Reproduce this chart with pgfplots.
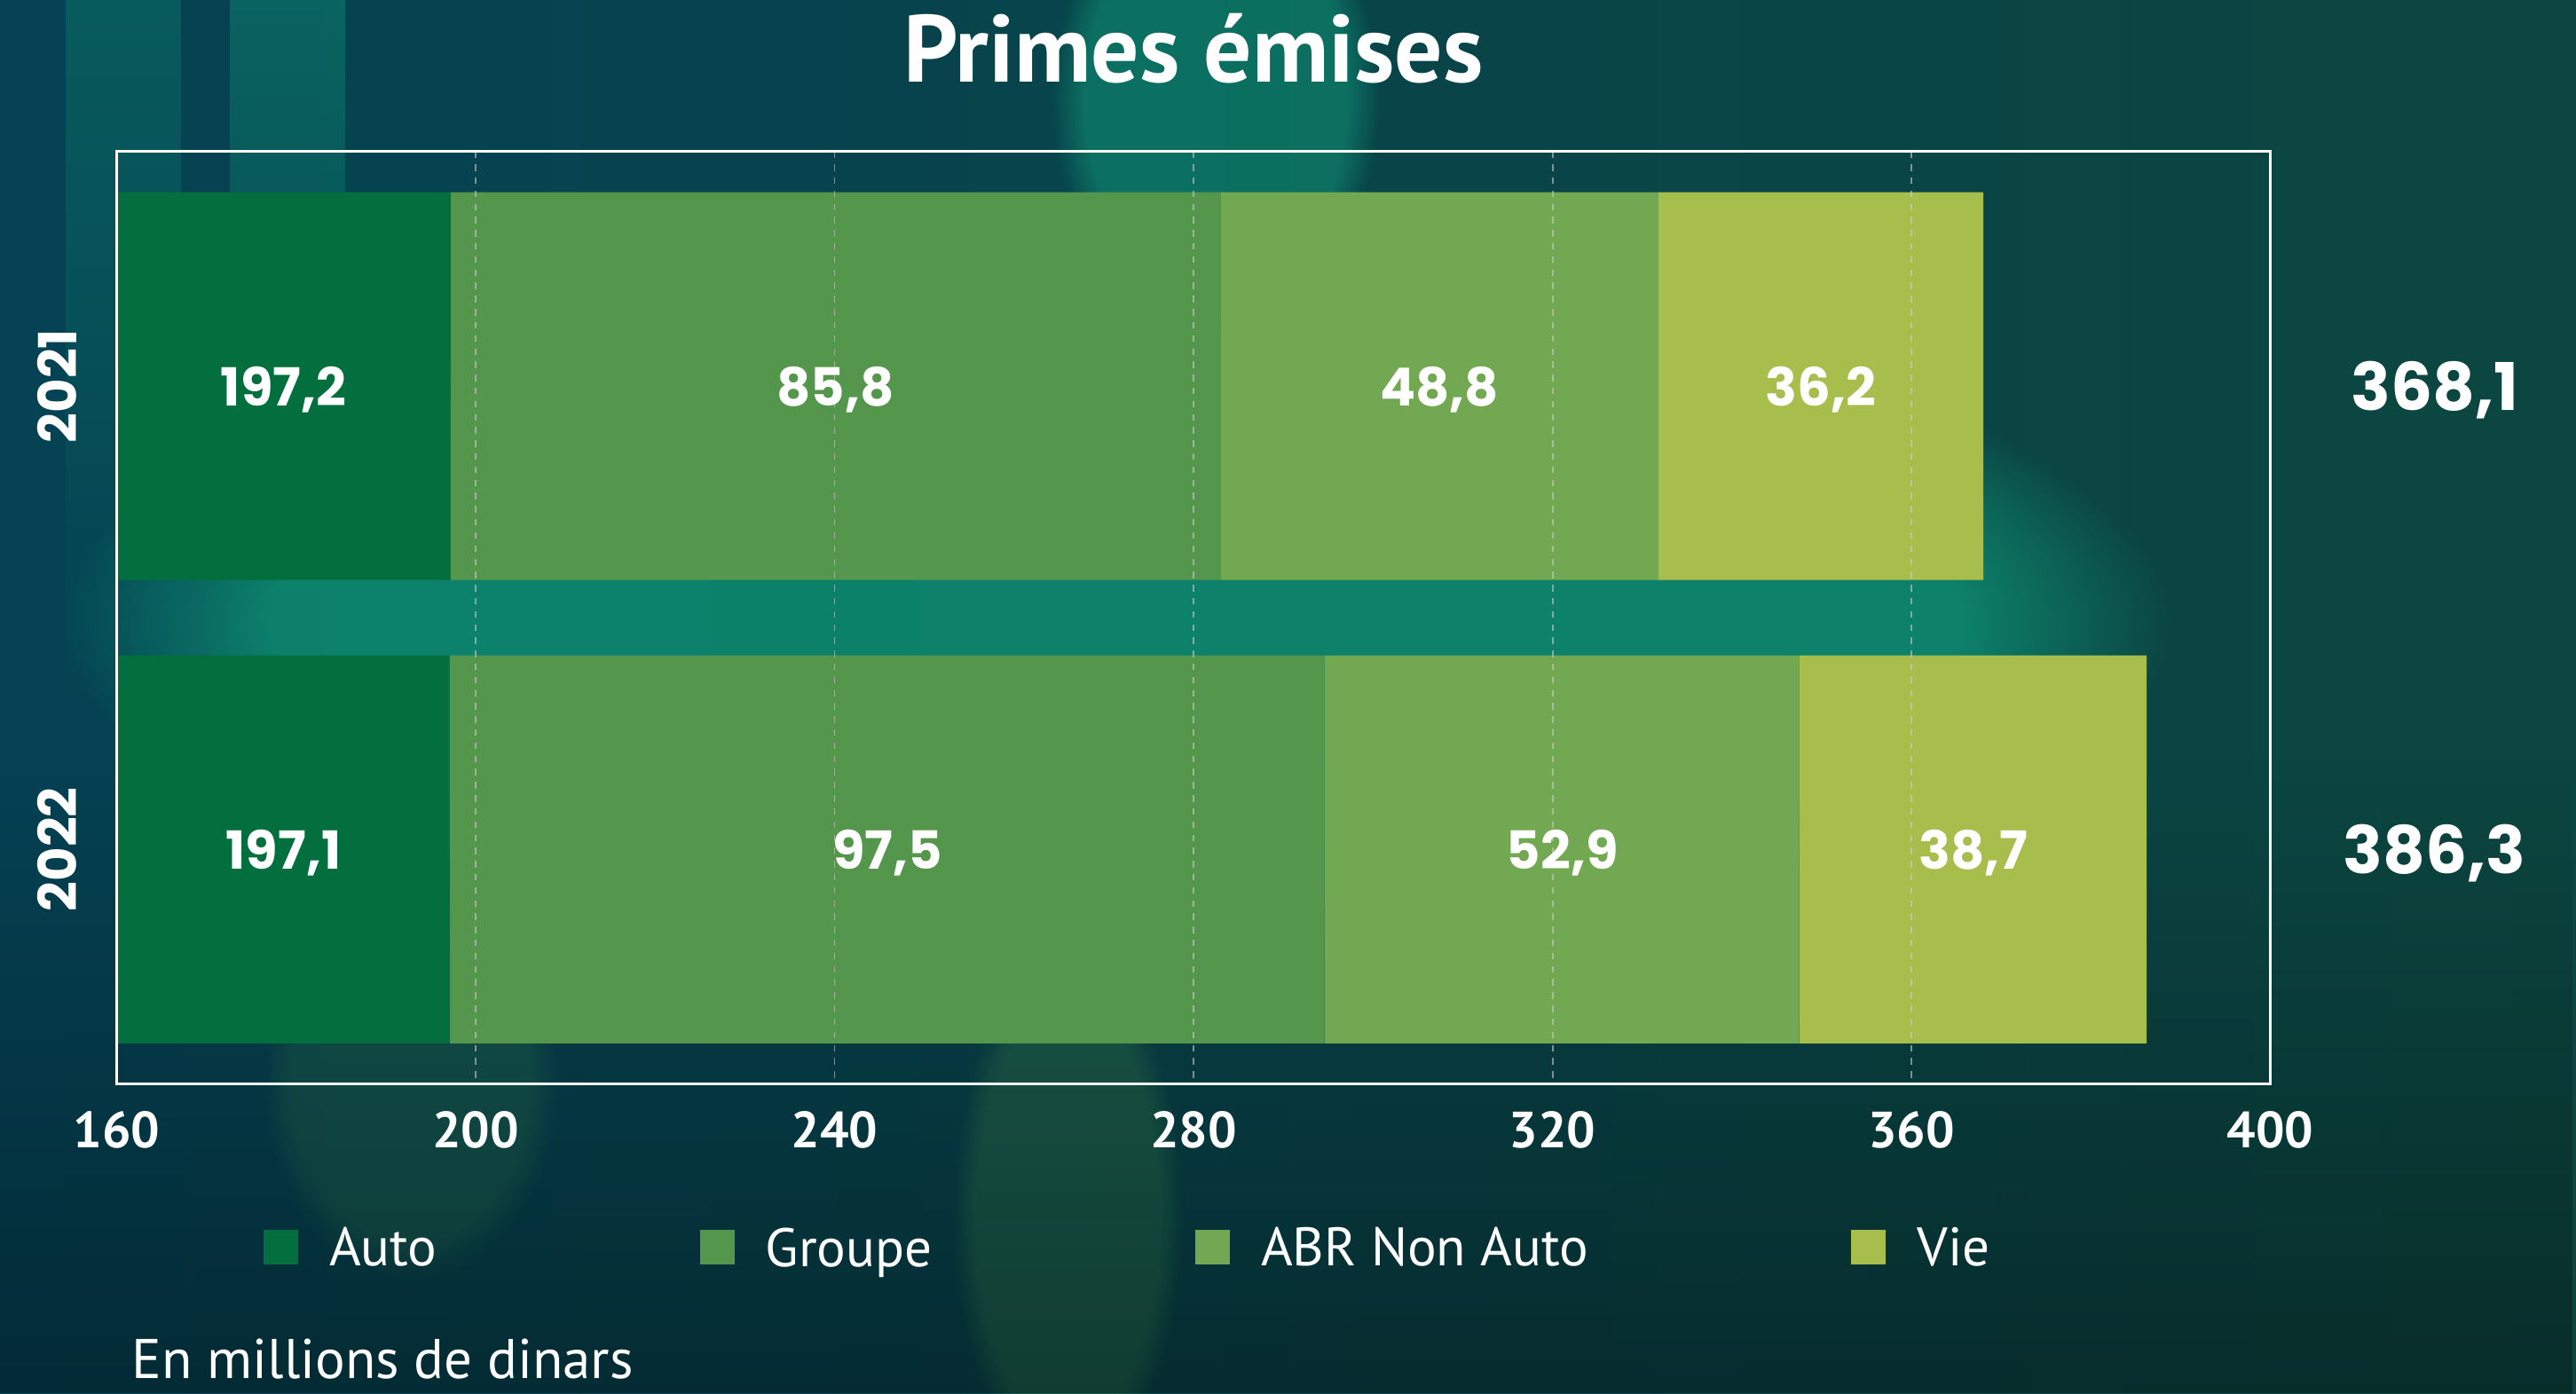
\documentclass[border=0pt]{standalone}
\usepackage{pgfplots}
\pgfplotsset{compat=1.18}
\usepackage{pgfplotstable}
\usetikzlibrary{fadings}
\usepackage{fontspec}
\setmainfont{PT Sans}
\newfontfamily\condfont{PT Sans}
\newfontfamily\numfont{Poppins}
\definecolor{cAuto}{RGB}{3,110,62}
\definecolor{cGroupe}{RGB}{84,150,76}
\definecolor{cABR}{RGB}{114,168,82}
\definecolor{cVie}{RGB}{168,190,76}
\definecolor{bgA}{RGB}{5,66,84}
\definecolor{bgB}{RGB}{8,80,82}
\definecolor{bgC}{RGB}{12,70,64}
\definecolor{glow}{RGB}{14,140,112}
\definecolor{glowg}{RGB}{60,140,80}

\pgfplotstableread{
y Auto Groupe ABR Vie
0 197.2 85.8 48.8 36.2
1 197.1 97.5 52.9 38.7
}\primes

\pgfplotstableread{
x y label
178.6 0 197,2
240.1 0 85,8
307.4 0 48,8
349.9 0 36,2
178.6 1 197,1
245.9 1 97,5
321.1 1 52,9
366.9 1 38,7
}\seglabels

\pgfplotstableread{
x y label
418.3 0 368,1
418.3 1 386,3
}\totals

\begin{document}
\begin{tikzpicture}
\useasboundingbox (0,0) rectangle (784pt,-424pt);
\shade[left color=bgA, middle color=bgB, right color=bgC] (0,0) rectangle (784pt,-424pt);
\fill[glow, opacity=0.85, path fading=circle with fuzzy edge 20 percent] (340pt,-190pt) ellipse [x radius=320pt, y radius=105pt];
\fill[glow, opacity=0.6, path fading=circle with fuzzy edge 20 percent] (370pt,-30pt) ellipse [x radius=50pt, y radius=70pt];
\fill[glowg, opacity=0.35, path fading=circle with fuzzy edge 20 percent] (325pt,-370pt) ellipse [x radius=35pt, y radius=80pt];
\fill[glowg, opacity=0.25, path fading=circle with fuzzy edge 20 percent] (125pt,-330pt) ellipse [x radius=45pt, y radius=60pt];
\fill[glow, opacity=0.45, path fading=south] (70pt,0pt) rectangle (105pt,-220pt);
\fill[glow, opacity=0.35, path fading=south] (20pt,0pt) rectangle (55pt,-220pt);
\fill[black, opacity=0.35, path fading=north] (0,-230pt) rectangle (784pt,-424pt);

\begin{axis}[
  at={(35.5pt,-46pt)}, anchor=north west,
  scale only axis, width=655.5pt, height=284pt,
  xbar stacked, bar width=0.837,
  xmin=160, xmax=400, ymin=-0.507, ymax=1.507, y dir=reverse,
  xtick={160,200,...,400}, ytick={0,1}, yticklabels={2021,2022},
  xmajorgrids,
  grid style={dash pattern=on 2pt off 2pt, color=white!60!gray, line width=0.5pt, opacity=0.6},
  axis line style={white, line width=0.8pt},
  major tick length=0pt,
  axis on top,
  /pgf/number format/assume math mode=true,
  xticklabel style={font=\condfont\bfseries\fontsize{15.5}{15.5}\selectfont, text=white, inner sep=0pt, anchor=north},
  xticklabel shift=8pt,
  yticklabel style={font=\numfont\bfseries\fontsize{16}{16}\selectfont, text=white, rotate=90, anchor=south, inner sep=0pt},
  yticklabel shift=12pt,
  title={Primes émises},
  title style={font=\condfont\bfseries\fontsize{29}{29}\selectfont, text=white, at={(0.5,1)}, anchor=base, yshift=15pt},
  legend columns=4,
  legend cell align=left,
  legend style={at={(0.0679,-0.1743)}, anchor=west, draw=none, fill=none, inner sep=0pt, text=white,
    font=\condfont\fontsize{16.5}{16.5}\selectfont,
    nodes={inner sep=0pt, text depth=0pt},
    /tikz/every odd column/.append style={column sep=9.5pt},
    /tikz/every even column/.append style={column sep=80pt}},
  legend image code/.code={\fill[#1] (0pt,-5.25pt) rectangle (10.5pt,5.25pt);},
]
\addplot[fill=cAuto, draw=none] table[x=Auto, y=y] {\primes};
\addplot[fill=cGroupe, draw=none] table[x=Groupe, y=y] {\primes};
\addplot[fill=cABR, draw=none] table[x=ABR, y=y] {\primes};
\addplot[fill=cVie, draw=none] table[x=Vie, y=y] {\primes};
\legend{Auto, Groupe, ABR Non Auto, Vie}
\end{axis}

\begin{axis}[
  at={(35.5pt,-46pt)}, anchor=north west,
  scale only axis, width=655.5pt, height=284pt,
  xmin=160, xmax=400, ymin=-0.507, ymax=1.507, y dir=reverse,
  hide axis, clip=false,
  point meta=explicit symbolic,
]
\addplot[draw=none, mark=none, nodes near coords,
  every node near coord/.append style={anchor=center, inner sep=0pt, text depth=0pt, text=white, font=\numfont\bfseries\fontsize{16}{16}\selectfont}]
  table[x=x, y=y, meta=label] {\seglabels};
\addplot[draw=none, mark=none, nodes near coords,
  every node near coord/.append style={anchor=center, inner sep=0pt, text depth=0pt, text=white, font=\numfont\bfseries\fontsize{20}{20}\selectfont}]
  table[x=x, y=y, meta=label] {\totals};
\end{axis}

\node[anchor=base west, inner sep=0pt, text=white, font=\condfont\fontsize{17}{17}\selectfont] at (40pt,-419.5pt) {En millions de dinars};
\end{tikzpicture}
\end{document}
